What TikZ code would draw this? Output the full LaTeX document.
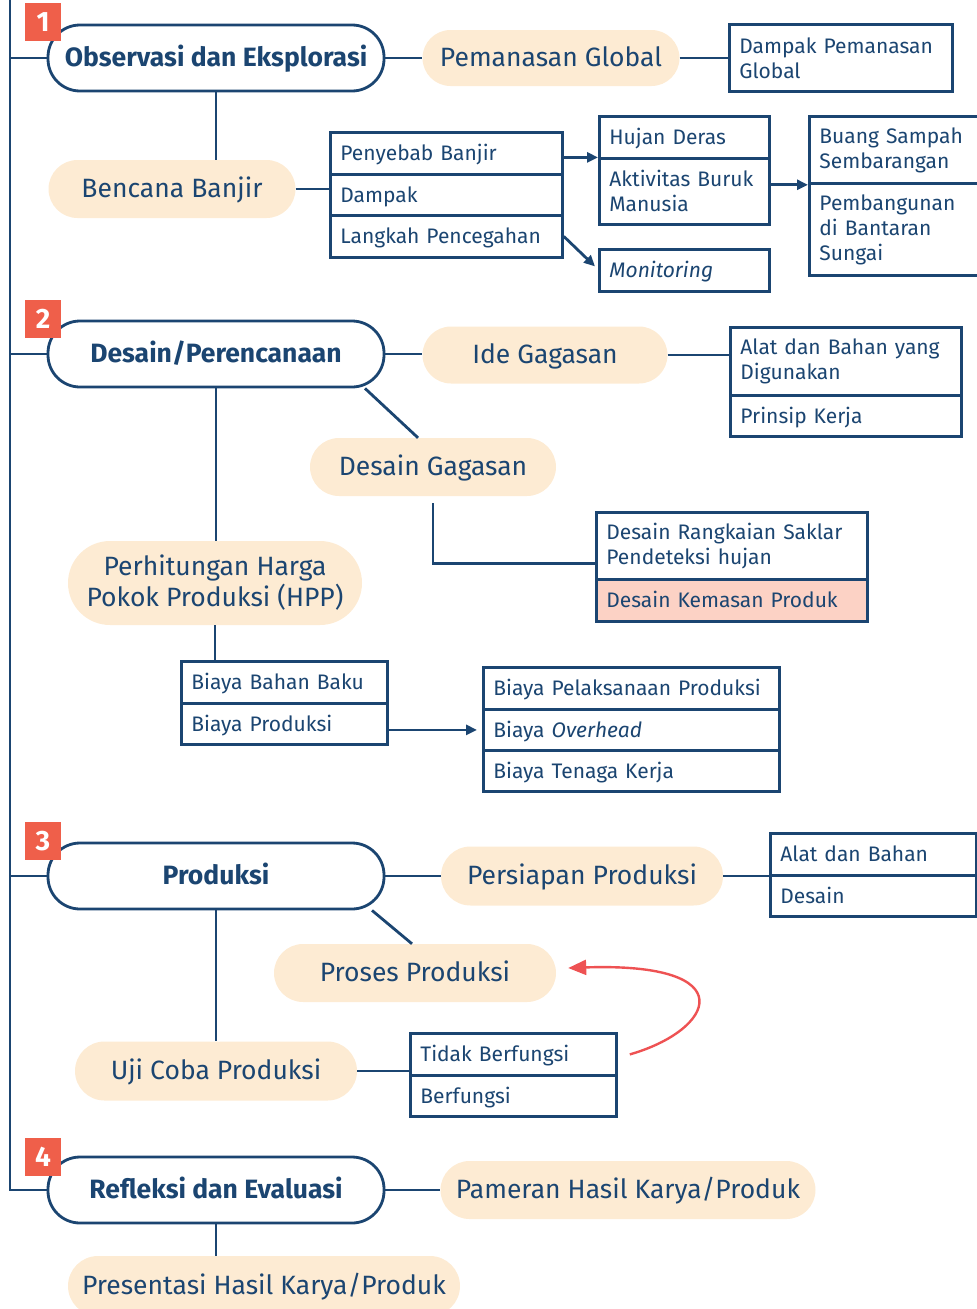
\documentclass[tikz,border=0pt]{standalone}
\usepackage{fontspec}
\setmainfont{Fira Sans}
\usetikzlibrary{arrows.meta,calc}
\definecolor{navy}{HTML}{1B4571}
\definecolor{peach}{HTML}{FDEBD3}
\definecolor{numred}{HTML}{EF5F4A}
\definecolor{pinkcell}{HTML}{FCD2C5}
\definecolor{curvered}{HTML}{EE5253}
\tikzset{
 line/.style={draw=navy, line width=2.8pt},
 arr/.style={line, -{Triangle[length=11pt,width=10pt]}},
 mainbox/.style={draw=navy, line width=2.8pt, fill=white, rounded corners=32pt, minimum width=336pt, minimum height=66pt, text=navy, font=\fontsize{26.5}{31}\selectfont\bfseries, inner sep=0pt, text height=23pt, text depth=6pt},
 pill/.style={fill=peach, text=navy, font=\fontsize{26.5}{31}\selectfont, inner sep=0pt, align=center},
 oneline/.style={text height=23pt, text depth=6pt},
 cell/.style={draw=navy, line width=2.8pt, fill=white, text=navy, font=\fontsize{21}{25}\selectfont, align=left, anchor=north west, inner xsep=10pt, inner ysep=0pt},
 single/.style={text height=19pt, text depth=4pt},
 numbox/.style={fill=numred, text=white, font=\fontsize{28}{28}\selectfont\bfseries, minimum width=36pt, minimum height=38pt, inner sep=0pt},
}
\newcommand\mkcell[7][]{\node[cell,#1,minimum height=#6pt,text width=\dimexpr#5pt-20pt\relax] (#2) at (#3,#4) {#7};}
\newcommand\mkpill[7][oneline]{\node[pill,#1,minimum width=#5pt,minimum height=#6pt,rounded corners=\dimexpr#6pt/2\relax] (#2) at (#3,#4) {#7};}
\begin{document}
\begin{tikzpicture}[x=1pt,y=-1pt]
\useasboundingbox (0,0) rectangle (977,1309);
\clip (0,0) rectangle (977,1309);
% ---------- Section 1
\node[mainbox] (m1) at (216,58) {Observasi dan Eksplorasi};
\mkpill{pem}{551}{58}{257}{56}{Pemanasan Global}
\mkcell{dampem}{728}{23}{223}{67}{Dampak Pemanasan\\Global}
\mkpill{banjir}{172}{189}{247}{58}{Bencana Banjir}
\mkcell[single]{penyebab}{329}{131}{232}{42}{Penyebab Banjir}
\mkcell[single]{dampak}{329}{173}{232}{41}{Dampak}
\mkcell[single]{langkah}{329}{214}{232}{42}{Langkah Pencegahan}
\mkcell[single]{hujan}{598}{115}{170}{42}{Hujan Deras}
\mkcell{aktivitas}{598}{157}{170}{66}{Aktivitas Buruk\\Manusia}
\mkcell[single]{monitoring}{598}{248}{170}{42}{\itshape Monitoring}
\mkcell{buang}{808}{115}{172}{67}{Buang Sampah\\Sembarangan}
\mkcell{pembangunan}{808}{182}{172}{92}{Pembangunan\\di Bantaran\\Sungai}
% ---------- Section 2
\node[mainbox] (m2) at (216,354) {Desain/Perencanaan};
\mkpill{ide}{545}{355}{245}{57}{Ide Gagasan}
\mkcell{alat}{729}{326}{231}{68}{Alat dan Bahan yang\\Digunakan}
\mkcell[single]{prinsip}{729}{394}{231}{41}{Prinsip Kerja}
\mkpill{desgag}{433}{467}{246}{58}{Desain Gagasan}
\mkcell{rangkaian}{595}{511}{271}{67}{Desain Rangkaian Saklar\\Pendeteksi hujan}
\mkcell[fill=pinkcell,single]{kemasan}{595}{578}{271}{42}{Desain Kemasan Produk}
\mkpill[]{hpp}{215}{583}{294}{84}{Perhitungan Harga\\Pokok Produksi (HPP)}
\mkcell[single]{bahanbaku}{180}{660}{206}{42}{Biaya Bahan Baku}
\mkcell[single]{biayaprod}{180}{702}{206}{41}{Biaya Produksi}
\mkcell[single]{pelaksanaan}{482}{666}{296}{42}{Biaya Pelaksanaan Produksi}
\mkcell[single]{overhead}{482}{708}{296}{41}{Biaya \textit{Overhead}}
\mkcell[single]{tenaga}{482}{749}{296}{41}{Biaya Tenaga Kerja}
% ---------- Section 3
\node[mainbox] (m3) at (216,876) {Produksi};
\mkpill{persiapan}{582}{876}{282}{59}{Persiapan Produksi}
\mkcell[single]{alatbahan}{769}{832}{206}{42}{Alat dan Bahan}
\mkcell[single]{desain}{769}{874}{206}{41}{Desain}
\mkpill{proses}{415}{973}{282}{58}{Proses Produksi}
\mkpill{uji}{216}{1071}{282}{59}{Uji Coba Produksi}
\mkcell[single]{tidak}{409}{1032}{206}{42}{Tidak Berfungsi}
\mkcell[single]{berfungsi}{409}{1074}{206}{41}{Berfungsi}
% ---------- Section 4
\node[mainbox] (m4) at (216,1190) {Refleksi dan Evaluasi};
\mkpill{pameran}{628}{1190}{375}{58}{Pameran Hasil Karya/Produk}
\mkpill{pres}{264}{1286}{392}{60}{Presentasi Hasil Karya/Produk}
% ---------- number boxes
\node[numbox] (n1) at (43,22) {1};
\node[numbox] (n2) at (43,319) {2};
\node[numbox] (n3) at (43,841) {3};
\node[numbox] (n4) at (43,1157) {4};
% ---------- spine
\coordinate (sp) at (10,0);
\draw[line] (sp) |- (m4.west);
\foreach \m in {m1,m2,m3} \draw[line] (\m.west) -- (\m.west -| sp);
% ---------- connectors section 1
\draw[line] (m1.east) -- (pem.west);
\draw[line] (pem.east) -- (pem.east -| dampem.west);
\draw[line] (m1.south) -- (m1.south |- banjir.north);
\draw[line] (banjir.east) -- (banjir.east -| dampak.west);
\draw[arr] ([yshift=-4pt]penyebab.east) -- ([yshift=-4pt]penyebab.east -| hujan.west);
\draw[arr] (aktivitas.east |- buang.south) -- (buang.south west);
\draw[arr] (langkah.east) -- ([xshift=-3pt,yshift=4pt]monitoring.west);
% ---------- connectors section 2
\draw[line] (m2.east) -- (m2.east -| ide.west);
\draw[line] (ide.east) -- (ide.east -| alat.west);
\draw[line] ([xshift=149pt]m2.south) -- ([xshift=-15pt]desgag.north);
\draw[line] ([yshift=-7pt]desgag.south) |- ([yshift=-17.5pt]rangkaian.west);
\draw[line] (m2.south) -- (m2.south |- hpp.north);
\draw[line] (hpp.south) -- (hpp.south |- bahanbaku.north);
\draw[arr] (biayaprod.east |- overhead.west) -- ([xshift=-5pt]overhead.west);
% ---------- connectors section 3
\draw[line] (m3.east) -- (persiapan.west);
\draw[line] (persiapan.east) -- (persiapan.east -| alatbahan.west);
\draw[line] ([xshift=156pt]m3.south) -- ([xshift=-3pt]proses.north);
\draw[line] (m3.south) -- (m3.south |- uji.north);
\draw[line] (uji.east) -- (uji.east -| tidak.west);
\draw[draw=curvered, line width=2.4pt, -{Triangle[length=18pt,width=15pt]}]
  ([xshift=12pt]tidak.east) .. controls (715,1030) and (745,962) .. ([xshift=12pt,yshift=5pt]proses.east);
% ---------- connectors section 4
\draw[line] (m4.east) -- (pameran.west);
\draw[line] (m4.south) -- (m4.south |- pres.north);
\end{tikzpicture}
\end{document}
